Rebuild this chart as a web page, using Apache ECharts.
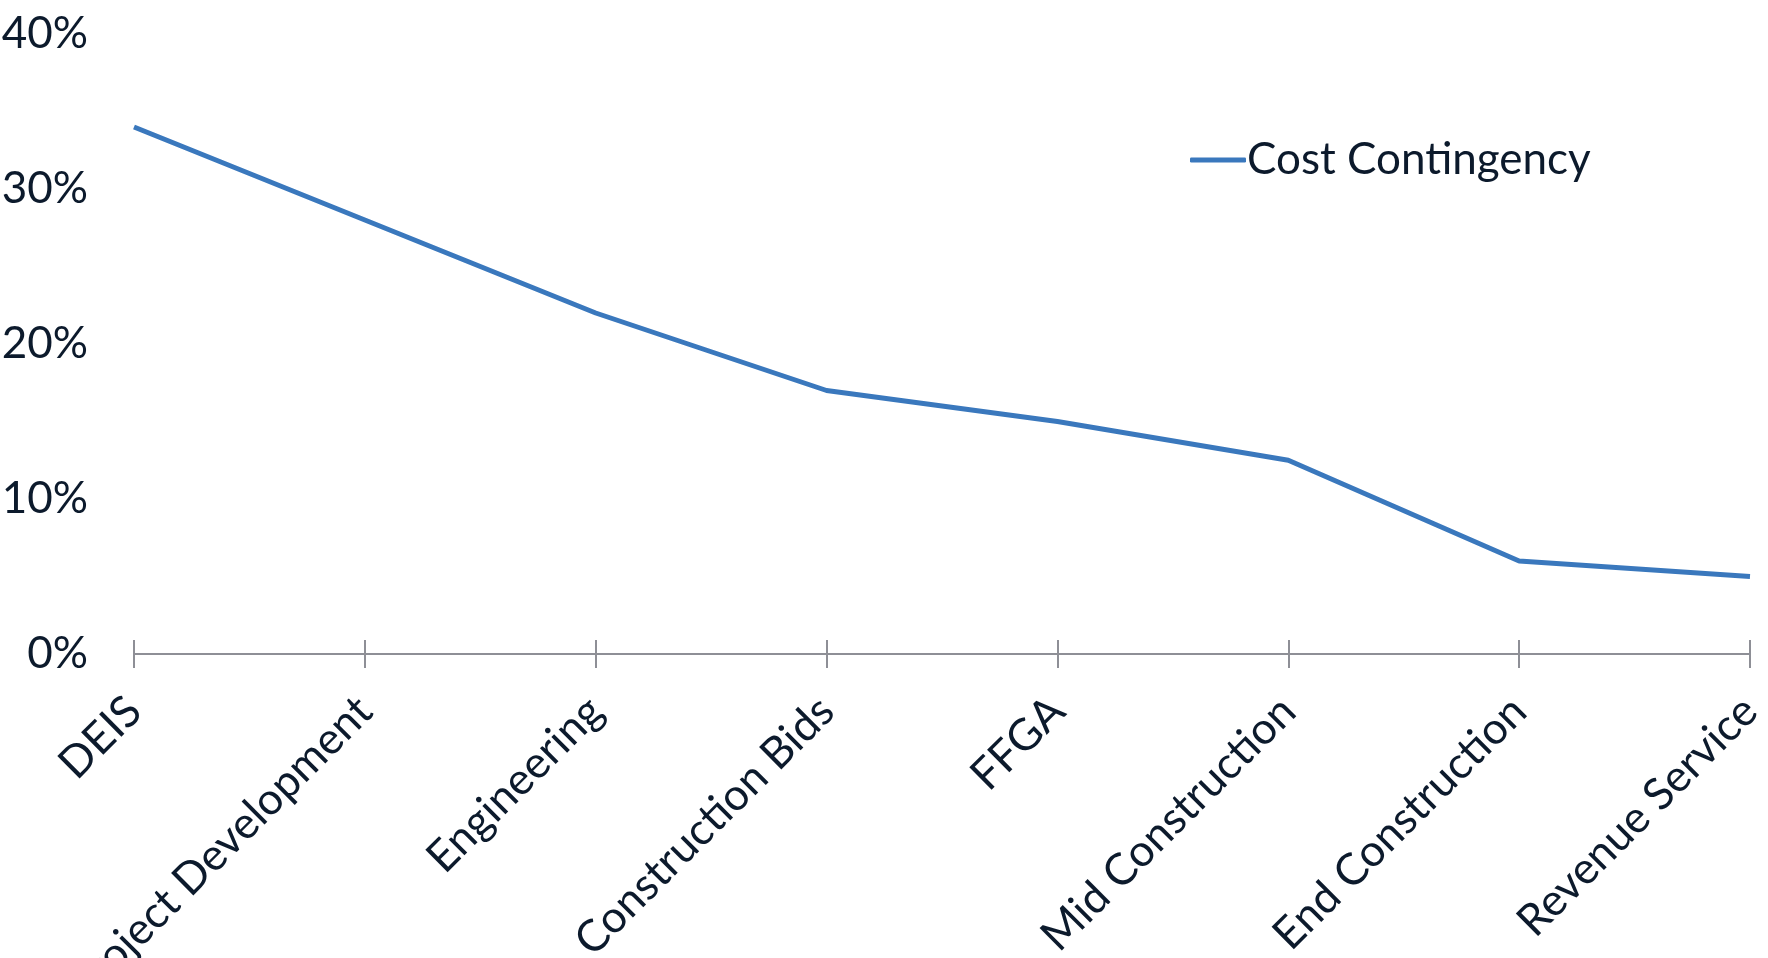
<!DOCTYPE html>
<html>
<head>
<meta charset="utf-8">
<script src="https://cdn.jsdelivr.net/npm/echarts@6/dist/echarts.min.js"></script>
<style>
  html, body { margin: 0; padding: 0; background: #fff; }
  #chart { width: 1768px; height: 958px; }
</style>
</head>
<body>
<div id="chart"></div>
<script>
// project phases on the x axis
const phases = ['DEIS', 'Project Development', 'Engineering', 'Construction Bids',
    'FFGA', 'Mid Construction', 'End Construction', 'Revenue Service'];
// contingency in percent
const contingency = [34, 28, 22, 17, 15, 12.5, 6, 5];
const yTicks = { min: 0, max: 40, step: 10 };

const textColor = '#0c1a2c';
const axisGray = '#8e8f96';
const lineBlue = '#3a78bd';
const fontName = 'Lato';

let costChart = echarts.init(document.getElementById('chart'));

const option = {
    animation: false,
    grid: { left: 134, right: 18, top: 34, bottom: 304, outerBoundsMode: 'none', containLabel: false },
    legend: {
        data: [{ name: 'Cost Contingency', icon: 'roundRect' }],
        left: 1185,
        top: 133,
        itemWidth: 56,
        itemHeight: 5,
        itemGap: 0,
        itemStyle: { color: lineBlue },
        textStyle: { fontFamily: fontName, fontSize: 44, color: textColor, padding: [0, 0, 0, -4] }
    },
    xAxis: [
        {
            type: 'category',
            data: phases,
            boundaryGap: false,
            axisLine: { lineStyle: { color: axisGray, width: 2 } },
            axisTick: { show: true, length: 14, lineStyle: { color: axisGray, width: 2 } },
            axisLabel: {
                rotate: 45,
                margin: 50,
                interval: 0,
                fontFamily: fontName,
                fontSize: 44,
                color: textColor
            }
        },
        {
            // second axis only to draw the upper half of the tick marks
            type: 'category',
            data: phases,
            position: 'bottom',
            boundaryGap: false,
            axisLine: { show: false },
            axisTick: { show: true, inside: true, length: 14, lineStyle: { color: axisGray, width: 2 } },
            axisLabel: { show: false }
        }
    ],
    yAxis: {
        type: 'value',
        min: yTicks.min,
        max: yTicks.max,
        interval: yTicks.step,
        axisLine: { show: false },
        axisTick: { show: false },
        splitLine: { show: false },
        axisLabel: {
            formatter: '{value}%',
            margin: 46,
            fontFamily: fontName,
            fontSize: 44,
            color: textColor
        }
    },
    series: [
        {
            name: 'Cost Contingency',
            type: 'line',
            data: contingency,
            symbol: 'none',
            lineStyle: { color: lineBlue, width: 5 },
            itemStyle: { color: lineBlue }
        }
    ]
};

costChart.setOption(option);
</script>
</body>
</html>
